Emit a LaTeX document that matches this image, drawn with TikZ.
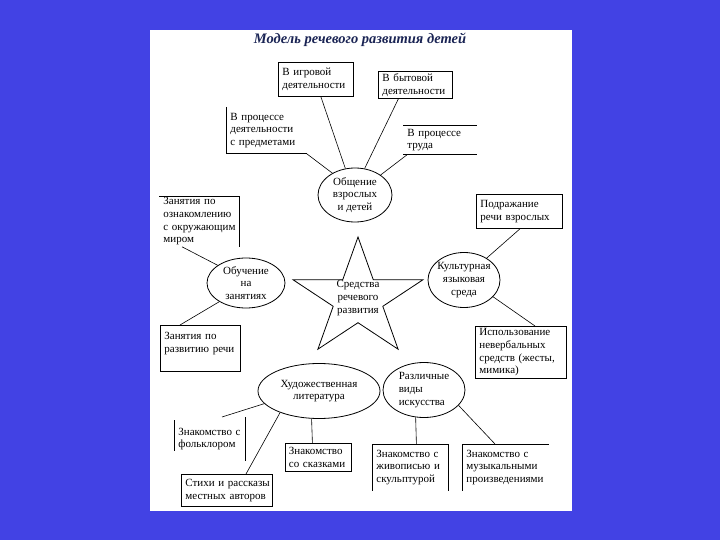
\documentclass[tikz,border=0pt]{standalone}
\usepackage{fontspec}
\setmainfont{Liberation Serif}
\usetikzlibrary{shapes.geometric}
\definecolor{bgblue}{RGB}{66,66,228}
\definecolor{titleblue}{RGB}{26,36,84}
\tikzset{
  txt/.style={font=\fontsize{11}{12.6}\selectfont},
  bx/.style={txt, rectangle, anchor=north west, inner xsep=4pt, inner ysep=0pt, align=left, line width=0.8pt},
  ell/.style={txt, ellipse, draw, line width=0.8pt, inner sep=-3pt, align=center},
  conn/.style={line width=0.6pt},
  edge/.style={line width=0.8pt}
}
\begin{document}
\begin{tikzpicture}[x=1pt, y=-1pt]
\useasboundingbox (0,0) rectangle (720,540);
\fill[bgblue] (0,0) rectangle (720,540);
\fill[white] (150,30) rectangle (572,511);

% title
\node[font=\fontsize{14.5}{16}\selectfont\bfseries\itshape, text=titleblue] (title) at (360,40) {Модель речевого развития детей};

% ellipses
\node[ell, minimum width=74, minimum height=54] (e1) at (355,195) {Общение\\взрослых\\и детей};
\node[ell, minimum width=78, minimum height=50] (e2) at (246,283) {Обучение\\на\\занятиях};
\node[ell, minimum width=72, minimum height=55] (e3) at (464,280) {Культурная\\языковая\\среда};
\node[ell, minimum width=122, minimum height=55] (e4) at (319,391) {Художественная\\литература};
\node[ell, minimum width=82, minimum height=55, align=left] (e5) at (424,390) {Различные\\виды\\искусства};

% star
\draw[edge] (358,237) -- (342.7,279.8) -- (293.1,279.8) -- (333.2,306.3) -- (317.9,349.2)
  -- (358,322.7) -- (398.1,349.2) -- (382.8,306.3) -- (422.9,279.8) -- (373.3,279.8) -- cycle;
\node[txt, align=center] (st) at (358,298) {Средства\\речевого\\развития};

% boxes
\node[bx, draw, minimum width=75, minimum height=34, text width=67] (bA) at (278,62) {В игровой\\деятельности};
\node[bx, draw, minimum width=74, minimum height=27, text width=66] (bB) at (378,71) {В бытовой\\деятельности};
\node[bx, minimum width=80, minimum height=46, text width=72] (bP) at (226,107) {\mbox{В процессе}\\деятельности\\\mbox{с предметами}};
\node[bx, minimum width=73, minimum height=29, text width=65] (bT) at (403,125) {\mbox{В процессе}\\труда};
\node[bx, minimum width=80, minimum height=50, text width=72] (bO) at (159,196) {\mbox{Занятия по}\\ознакомлению\\\mbox{с окружающим}\\миром};
\node[bx, draw, minimum width=80, minimum height=46, text width=72] (bR) at (160,325) {\mbox{Занятия по}\\\mbox{развитию речи}\\\mbox{}};
\node[bx, draw, minimum width=86, minimum height=34, text width=78] (bPd) at (476,194) {Подражание\\\mbox{речи взрослых}};
\node[bx, draw, minimum width=91, minimum height=52, text width=83] (bI) at (475,326) {Использование\\невербальных\\\mbox{средств (жесты,}\\мимика)};
\node[bx, minimum width=71, minimum height=43, text width=63] (bF) at (174,417) {\mbox{Знакомство с}\\фольклором};
\node[bx, draw, minimum width=91, minimum height=32, text width=83] (bS) at (181,474) {\mbox{Стихи и рассказы}\\\mbox{местных авторов}};
\node[bx, draw, minimum width=66, minimum height=28, text width=59, inner xsep=3.5pt] (bK) at (285,443) {Знакомство\\\mbox{со сказками}};
\node[bx, minimum width=76, minimum height=46, text width=68] (bZ) at (372,444) {\mbox{Знакомство с}\\\mbox{живописью и}\\скульптурой};
\node[bx, minimum width=86, minimum height=46, text width=78] (bM) at (462,444) {\mbox{Знакомство с}\\музыкальными\\произведениями};

% partial borders
\draw[edge] (bP.north west) -- (bP.south west) -- (bP.south east);
\draw[edge] (bT.north west) -- (bT.north east);
\draw[edge] (bT.south west) -- (bT.south east);
\draw[edge] (bO.north west) -- (bO.north east) -- (bO.south east);
\draw[edge] ([yshift=-3pt]bF.north west) -- ([yshift=10pt]bF.south west);
\draw[edge] (bF.north east) -- (bF.south east);
\draw[edge] (bZ.south west) -- (bZ.north west) -- (bZ.north east) -- (bZ.south east);
\draw[edge] (bM.south west) -- (bM.north west) -- (bM.north east);

% connectors
\draw[conn] ([xshift=5pt]bA.south) -- (e1.110);
\draw[conn] ([xshift=-17pt]bB.south) -- (e1.70);
\draw[conn] ([xshift=4pt]bT.south west) -- (e1.38);
\draw[conn] (bP.south east) -- (e1.136);
\draw[conn] ([xshift=23pt]bO.south west) -- (e2.148);
\draw[conn] ([xshift=20pt]bR.north west) -- (e2.215);
\draw[conn] ([xshift=44pt]bPd.south west) -- (e3.44);
\draw[conn] ([xshift=60pt]bI.north west) -- (e3.-30);
\draw[conn] ([xshift=48pt]bF.north west) -- (e4.193);
\draw[conn] ([xshift=65pt]bS.north west) -- (e4.209);
\draw[conn] ([xshift=-6pt]bK.north) -- (e4.255.5);
\draw[conn] ([xshift=6pt]bZ.north) -- (e5.253.5);
\draw[conn] ([xshift=33pt]bM.north west) -- (e5.-24);
\end{tikzpicture}
\end{document}
